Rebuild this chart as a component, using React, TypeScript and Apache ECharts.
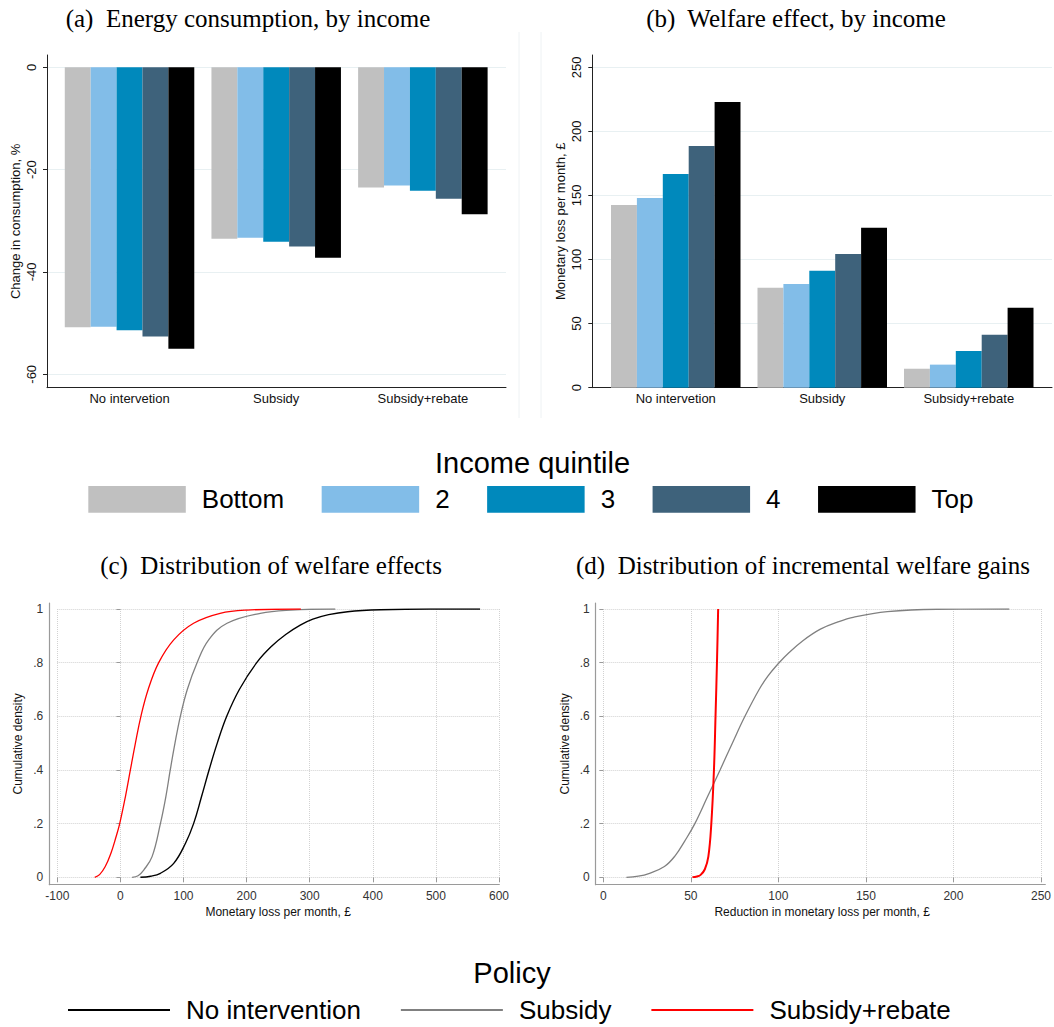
import React, { useEffect, useRef } from 'react';
import * as echarts from 'echarts';

// ---- Data ----
const categories = ['No intervetion', 'Subsidy', 'Subsidy+rebate'];
const quintiles = ['Bottom', '2', '3', '4', 'Top'];
const quintileColors = ['#c0c0c0', '#82bde8', '#0089bc', '#3e627b', '#000000'];

// (a) change in energy consumption, %, per policy (by income quintile)
const consumptionBottom = [-50.8, -33.5, -23.5];
const consumptionQ2 = [-50.7, -33.3, -23.1];
const consumptionQ3 = [-51.4, -34.1, -24.1];
const consumptionQ4 = [-52.6, -35.0, -25.7];
const consumptionTop = [-55.0, -37.2, -28.7];

// (b) monetary loss per month, £, per policy (by income quintile)
const lossBottom = [142.6, 78.0, 14.8];
const lossQ2 = [148.0, 80.9, 18.0];
const lossQ3 = [166.7, 91.3, 28.6];
const lossQ4 = [188.6, 104.3, 41.4];
const lossTop = [222.9, 124.8, 62.4];

const policies = ['No intervention', 'Subsidy', 'Subsidy+rebate'];
const policyColors = ['#000000', '#808080', '#ff0000'];

// (c) cumulative distribution of monetary loss [£ per month, share]
const cdfNoIntervention = [
  [31.7, 0], [48, 0.004], [63.4, 0.015], [84.5, 0.052], [103, 0.126], [116, 0.2],
  [128.5, 0.3], [140.5, 0.4], [153.5, 0.5], [168.5, 0.6], [188.5, 0.7], [216, 0.8],
  [240, 0.862], [262, 0.905], [285, 0.94], [305, 0.962], [330, 0.979], [360, 0.99],
  [412, 0.997], [491, 1], [570, 1],
];
const cdfSubsidy = [
  [18.5, 0], [28, 0.006], [37, 0.027], [50.2, 0.077], [63.4, 0.2], [72, 0.3],
  [79, 0.4], [86.5, 0.5], [95, 0.6], [106, 0.7], [121.5, 0.8], [139.9, 0.885],
  [169, 0.947], [221.7, 0.984], [270, 0.996], [340.5, 1],
];
const cdfSubsidyRebate = [
  [-40.7, 0], [-33, 0.01], [-24, 0.04], [-15, 0.09], [-7, 0.15], [-1.1, 0.2],
  [7.9, 0.3], [15.8, 0.4], [23.8, 0.5], [32.5, 0.6], [44, 0.7], [60.7, 0.8],
  [84.5, 0.885], [116, 0.947], [158, 0.984], [200, 0.996], [286, 1],
];

// (d) cumulative distribution of reduction in monetary loss
const gainSubsidy = [
  [13.2, 0], [20, 0.004], [26.4, 0.015], [34.9, 0.04], [41, 0.08], [46.5, 0.135],
  [52.3, 0.2], [59.5, 0.3], [66.7, 0.4], [73.7, 0.5], [80.9, 0.6], [89, 0.7],
  [94, 0.75], [100, 0.797], [106, 0.837], [114, 0.882], [124, 0.925], [134, 0.952],
  [143.3, 0.97], [162.2, 0.99], [190.4, 0.999], [231.9, 1],
];
const gainSubsidyRebate = [
  [50.9, 0], [53.5, 0.003], [55.6, 0.009], [58, 0.03], [60, 0.077], [61.7, 0.2],
  [63.2, 0.4], [64.1, 0.6], [65, 0.82], [65.6, 1],
];

// ---- Styles ----
const SANS = '"Liberation Sans", Arial, sans-serif';
const SERIF = '"Liberation Serif", "Times New Roman", serif';
const DARK_AXIS = '#222222';
const GREY_AXIS = '#9a9a9a';
const LIGHT_GRID = '#e8f0f2';
const DOT_GRID = '#d2d2d2';

const hidden = { show: false };

function frameX(gridIndex: number, color: string, width = 1) {
  return {
    type: 'value', gridIndex, min: 0, max: 1, position: 'bottom',
    axisLine: { show: true, onZero: false, lineStyle: { color, width } },
    axisTick: hidden, axisLabel: hidden, splitLine: hidden,
  };
}
function frameY(gridIndex: number, color: string, name: string, fontSize: number, width = 1) {
  return {
    type: 'value', gridIndex, min: 0, max: 1, position: 'left',
    axisLine: { show: true, onZero: false, lineStyle: { color, width } },
    axisTick: hidden, axisLabel: hidden, splitLine: hidden,
    name, nameLocation: 'middle', nameGap: 25, nameRotate: 90,
    nameTextStyle: { fontFamily: SANS, fontSize, color: '#111' },
  };
}

const fmtShare = (v: number) => {
  const r = Math.round(v * 10) / 10;
  if (r === 0) return '0';
  if (r === 1) return '1';
  return String(r).replace(/^0/, '');
};

function buildOption() {
  const consumption = [consumptionBottom, consumptionQ2, consumptionQ3, consumptionQ4, consumptionTop];
  const loss = [lossBottom, lossQ2, lossQ3, lossQ4, lossTop];

  const grid = [
    { left: 47, top: 55, width: 459, height: 332.7 },        // 0 (a) frame
    { left: 47, top: 67.3, width: 459, height: 307 },        // 1 (a) value scale
    { left: 56.2, top: 55, width: 440, height: 332.7 },      // 2 (a) bars
    { left: 592.3, top: 55, width: 459.7, height: 332.7 },   // 3 (b) frame
    { left: 592.3, top: 67.3, width: 459.7, height: 320.4 }, // 4 (b) value scale
    { left: 602.5, top: 55, width: 439.5, height: 332.7 },   // 5 (b) bars
    { left: 49.3, top: 603, width: 450, height: 281.7 },     // 6 (c) frame
    { left: 57.3, top: 609, width: 441.7, height: 268.3 },   // 7 (c) curves
    { left: 595.7, top: 603, width: 449.6, height: 281.7 },  // 8 (d) frame
    { left: 603.3, top: 609, width: 442, height: 268.3 },    // 9 (d) curves
  ];

  const barValueY = (gridIndex: number, min: number, max: number, interval: number) => ({
    type: 'value', gridIndex, min, max, interval,
    axisLine: hidden,
    axisTick: { show: true, length: 4, lineStyle: { color: DARK_AXIS } },
    axisLabel: { rotate: 90, margin: 9, fontFamily: SANS, fontSize: 13, color: '#111' },
    splitLine: { show: true, lineStyle: { color: LIGHT_GRID, width: 1 } },
  });
  const barCatX = (gridIndex: number) => ({
    type: 'category', gridIndex, data: categories,
    axisLine: { show: false, onZero: false }, axisTick: hidden,
    axisLabel: { margin: 4, fontFamily: SANS, fontSize: 13, color: '#111' },
    splitLine: hidden,
  });
  const curveX = (gridIndex: number, min: number, max: number, interval: number, name: string) => ({
    type: 'value', gridIndex, min, max, interval, offset: 7.4,
    axisLine: hidden,
    axisTick: { show: true, length: 5, lineStyle: { color: GREY_AXIS } },
    axisLabel: { margin: 5, fontFamily: SANS, fontSize: 12, color: '#333' },
    splitLine: { show: true, lineStyle: { color: DOT_GRID, type: 'dotted', width: 1 } },
    name, nameLocation: 'middle', nameGap: 21,
    nameTextStyle: { fontFamily: SANS, fontSize: 12, color: '#111' },
  });
  const curveY = (gridIndex: number, offset: number) => ({
    type: 'value', gridIndex, min: 0, max: 1, interval: 0.2, offset,
    axisLine: hidden,
    axisTick: { show: true, length: 4, lineStyle: { color: GREY_AXIS } },
    axisLabel: { margin: 6, fontFamily: SANS, fontSize: 12, color: '#333', formatter: fmtShare },
    splitLine: { show: true, lineStyle: { color: DOT_GRID, type: 'dotted', width: 1 } },
  });

  const xAxis = [
    frameX(0, DARK_AXIS),
    { type: 'value', gridIndex: 1, show: false, min: 0, max: 1 },
    barCatX(2),
    frameX(3, DARK_AXIS),
    { type: 'value', gridIndex: 4, show: false, min: 0, max: 1 },
    barCatX(5),
    frameX(6, GREY_AXIS, 1.2),
    curveX(7, -100, 600, 100, 'Monetary loss per month, £'),
    frameX(8, GREY_AXIS, 1.2),
    curveX(9, 0, 250, 50, 'Reduction in monetary loss per month, £'),
  ];
  const yAxis = [
    frameY(0, DARK_AXIS, 'Change in consumption, %', 13),
    barValueY(1, -60, 0, 20),
    { type: 'value', gridIndex: 2, show: false, min: -62.6, max: 2.4 },
    frameY(3, DARK_AXIS, 'Monetary loss per month, £', 13),
    barValueY(4, 0, 250, 50),
    { type: 'value', gridIndex: 5, show: false, min: 0, max: 259.6 },
    frameY(6, GREY_AXIS, 'Cumulative density', 12, 1.2),
    curveY(7, 8),
    frameY(8, GREY_AXIS, 'Cumulative density', 12, 1.2),
    curveY(9, 7.6),
  ];

  const series: any[] = [];
  quintiles.forEach((q, i) => {
    series.push({
      type: 'bar', name: q, xAxisIndex: 2, yAxisIndex: 2, data: consumption[i],
      barWidth: 25.9, barGap: '0%', itemStyle: { color: quintileColors[i] },
    });
  });
  quintiles.forEach((q, i) => {
    series.push({
      type: 'bar', name: q, xAxisIndex: 5, yAxisIndex: 5, data: loss[i],
      barWidth: 25.9, barGap: '0%', itemStyle: { color: quintileColors[i] },
    });
  });

  const curve = (name: string, color: string, axis: number, data: number[][], width: number) => ({
    type: 'line', name, xAxisIndex: axis, yAxisIndex: axis, data,
    showSymbol: false, symbol: 'none', smooth: 0.4,
    lineStyle: { color, width }, itemStyle: { color },
  });
  series.push(curve(policies[0], policyColors[0], 7, cdfNoIntervention, 1.4));
  series.push(curve(policies[1], policyColors[1], 7, cdfSubsidy, 1.3));
  series.push(curve(policies[2], policyColors[2], 7, cdfSubsidyRebate, 1.3));
  series.push(curve(policies[1], policyColors[1], 9, gainSubsidy, 1.3));
  series.push(curve(policies[2], policyColors[2], 9, gainSubsidyRebate, 2));

  const title = (text: string, x: number, y: number) => ({
    type: 'text', x, y, silent: true,
    style: {
      text, fill: '#000', font: `25px ${SERIF}`,
      textAlign: 'center', textVerticalAlign: 'middle', align: 'center', verticalAlign: 'middle',
    },
  });
  const heading = (text: string, x: number, y: number) => ({
    type: 'text', x, y, silent: true,
    style: {
      text, fill: '#000', font: `29px ${SANS}`,
      textAlign: 'center', textVerticalAlign: 'middle', align: 'center', verticalAlign: 'middle',
    },
  });
  const border = (x: number) => ({
    type: 'line', silent: true,
    shape: { x1: x, y1: 32, x2: x, y2: 418 },
    style: { stroke: '#eef2f4', lineWidth: 1 },
  });

  return {
    animation: false,
    backgroundColor: '#ffffff',
    grid,
    xAxis,
    yAxis,
    series,
    legend: [
      {
        data: quintiles, left: 88.3, top: 486, padding: 0, orient: 'horizontal',
        itemWidth: 97.5, itemHeight: 26.7, itemGap: 37.5, icon: 'rect', selectedMode: false,
        textStyle: { fontFamily: SANS, fontSize: 26, color: '#000', padding: [0, 0, 0, 11] },
      },
      {
        data: policies, left: 68, top: 997, padding: 0, orient: 'horizontal',
        itemWidth: 102, itemHeight: 2, itemGap: 40, icon: 'rect', selectedMode: false,
        textStyle: { fontFamily: SANS, fontSize: 26, color: '#000', padding: [0, 0, 0, 11] },
      },
    ],
    graphic: [
      border(519),
      border(541),
      title('(a)  Energy consumption, by income', 248, 18),
      title('(b)  Welfare effect, by income', 796, 18),
      title('(c)  Distribution of welfare effects', 271, 565),
      title('(d)  Distribution of incremental welfare gains', 803, 565),
      heading('Income quintile', 532.5, 463),
      heading('Policy', 512, 973),
    ],
  };
}

export default function App() {
  const ref = useRef<HTMLDivElement>(null);
  useEffect(() => {
    if (!ref.current) return;
    const chart = echarts.init(ref.current, undefined, { renderer: 'svg' });
    chart.setOption(buildOption() as any);
    return () => chart.dispose();
  }, []);
  return (
    <div
      ref={ref}
      style={{ position: 'fixed', left: 0, top: 0, width: 1054, height: 1027, background: '#fff' }}
    />
  );
}
